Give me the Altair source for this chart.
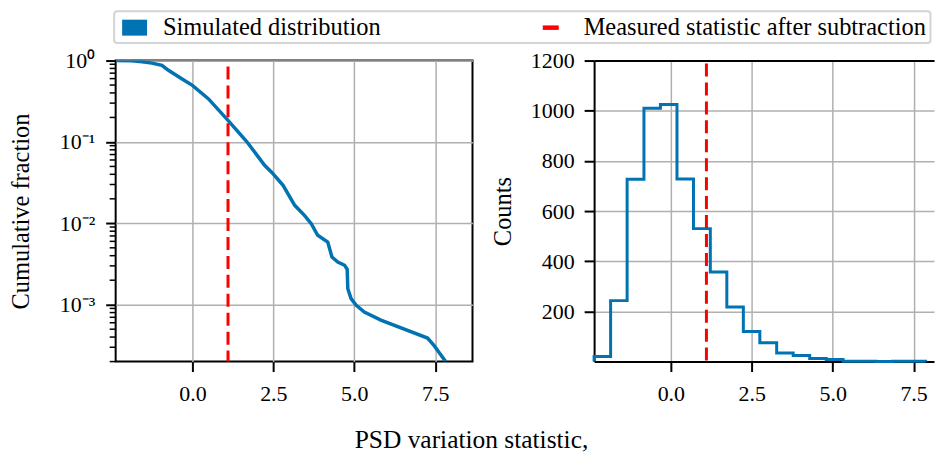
import altair as alt
import pandas as pd

BLUE = "#0173B2"
RED = "#FF0000"
FONT = "Liberation Serif"

SIM = "Simulated distribution"
MEAS = "Measured statistic after subtraction"

# Left panel: cumulative (survival) fraction of the simulated statistic
cdf_x = [-2.36, -1.87, -1.55, -1.25, -0.94, -0.74, -0.33, 0.00, 0.49, 1.10,
         1.67, 2.23, 2.46, 2.80, 3.16, 3.46, 3.67, 3.87, 4.18, 4.31,
         4.49, 4.70, 4.78, 4.80, 4.90, 5.06, 5.31, 5.82, 7.26, 7.46, 7.82]
cdf_y = [1.0, 0.996, 0.965, 0.93, 0.873, 0.758, 0.597, 0.496, 0.34, 0.184,
         0.102, 0.0516, 0.0419, 0.0293, 0.01663, 0.01253, 0.00989, 0.00713, 0.00589, 0.00385,
         0.00335, 0.00305, 0.00272, 0.00157, 0.00119, 0.000984, 0.000813, 0.000646, 0.000389, 0.000316, 0.000201]

# Right panel: histogram (step) of the simulated statistic
hist_edges = [-2.37, -1.86, -1.35, -0.83, -0.32, 0.19, 0.70, 1.22, 1.73, 2.24, 2.75,
              3.27, 3.78, 4.29, 4.80, 5.32, 5.83, 6.34, 6.85, 7.36, 7.87]
hist_counts = [20, 243, 727, 1010, 1025, 728, 530, 357, 218, 120,
               75, 34, 24, 12, 8, 1, 1, 0, 1, 1]

measured_value = 1.10

x_ticks = [0, 2.5, 5, 7.5]
y_log_ticks = [1, 0.1, 0.01, 0.001]
y_count_ticks = [200, 400, 600, 800, 1000, 1200]
minor_log = [m * 10.0 ** e for e in (-4, -3, -2, -1) for m in range(2, 10)]

x_domain_left = [-2.37, 8.65]
x_domain_right = [-2.37, 8.13]   # right panel is cut off at the page edge
W_L, W_R, H = 358, 341, 302

# ---- tables
cdf_df = pd.DataFrame({"x": cdf_x, "y": cdf_y})
step_x = [hist_edges[0]] + hist_edges[:-1] + [hist_edges[-1], hist_edges[-1]]
step_c = [0] + hist_counts + [hist_counts[-1], 0]
step_df = pd.DataFrame({"x": step_x, "c": step_c, "i": list(range(len(step_x)))})
meas_df = pd.DataFrame({"x": [measured_value]})
minor_df = pd.DataFrame({"m": minor_log})
leg_df = pd.DataFrame({"series": [SIM, MEAS], "x": [None, None], "y": [None, None]})

xs_left = alt.Scale(domain=x_domain_left, nice=False, zero=False)
xs_right = alt.Scale(domain=x_domain_right, nice=False, zero=False)

legend = alt.Legend(
    title=None, orient="none", legendX=-1.5, legendY=-49.5,
    direction="horizontal", columns=2, columnPadding=158,
    padding=4, symbolOffset=4, labelOffset=16,
    labelFont=FONT, labelFontSize=24.5, labelColor="black", labelLimit=800,
    symbolSize=625, symbolStrokeWidth=0, symbolOpacity=1,
    strokeColor="#d4d4d4", fillColor="white", cornerRadius=3,
)
color_scale = alt.Scale(domain=[SIM, MEAS], range=[BLUE, RED])
shape_scale = alt.Scale(domain=[SIM, MEAS],
                        range=["M-1,-0.64H1V0.64H-1Z", "M-1,-0.18H0.28V0.18H-1Z"])

# ---- left panel
ylog = alt.Scale(type="log", domain=[2.0e-4, 1], nice=False)
label_expr = ("datum.value > 0.5 ? '10⁰' : datum.value > 0.05 ? '10⁻¹' : "
              "datum.value > 0.005 ? '10⁻²' : '10⁻³'")

cdf_line = alt.Chart(cdf_df).mark_line(color=BLUE, strokeWidth=3.5, clip=True).encode(
    x=alt.X("x:Q", scale=xs_left,
            axis=alt.Axis(values=x_ticks, format=".1f", title=None, labelPadding=12)),
    y=alt.Y("y:Q", scale=ylog,
            axis=alt.Axis(values=y_log_ticks, labelExpr=label_expr, title="Cumulative fraction",
                          titleX=-94, titleBaseline="middle", labelPadding=11)),
)
minor_ticks = alt.Chart(minor_df).mark_rule(color="black", strokeWidth=1.5).encode(
    y=alt.Y("m:Q", scale=ylog), x=alt.value(-6), x2=alt.value(0)
)
meas_left = alt.Chart(meas_df).mark_rule(
    color=RED, strokeWidth=3, strokeDash=[13, 6], strokeDashOffset=13
).encode(x=alt.X("x:Q", scale=xs_left))
legend_layer = alt.Chart(leg_df).mark_point(filled=True, opacity=1).encode(
    x=alt.X("x:Q", scale=xs_left),
    y=alt.Y("y:Q", scale=ylog),
    color=alt.Color("series:N", scale=color_scale, legend=legend),
    shape=alt.Shape("series:N", scale=shape_scale, legend=legend),
)
left = alt.layer(cdf_line, minor_ticks, meas_left, legend_layer).properties(width=W_L, height=H)

# ---- right panel (frame drawn by axis domain lines, right side is off the page)
spine = dict(domain=True, domainColor="black", domainWidth=2)
hist_line = alt.Chart(step_df).mark_line(interpolate="step-after", color=BLUE, strokeWidth=3).encode(
    x=alt.X("x:Q", scale=xs_right,
            axis=alt.Axis(values=x_ticks, format=".1f", title=None, labelPadding=12, **spine)),
    y=alt.Y("c:Q", scale=alt.Scale(domain=[0, 1200], nice=False),
            axis=alt.Axis(values=y_count_ticks, format="d", title="Counts", titleX=-91,
                          titleBaseline="middle", labelPadding=10, **spine)),
    order=alt.Order("i:Q"),
)
meas_right = alt.Chart(meas_df).mark_rule(
    color=RED, strokeWidth=3, strokeDash=[13, 6], strokeDashOffset=16
).encode(
    x=alt.X("x:Q", scale=xs_right,
            axis=alt.Axis(orient="top", labels=False, ticks=False, grid=False, title=None, **spine))
)
right = alt.layer(hist_line, meas_right).resolve_axis(x="independent").properties(
    width=W_R, height=H, view=alt.ViewBackground(stroke="transparent")
)

chart = alt.hconcat(left, right, spacing=122, bounds="flush").resolve_scale(
    color="independent", shape="independent"
).properties(
    padding=0,
    title=alt.TitleParams("PSD variation statistic,", orient="bottom", anchor="middle",
                          offset=23, dx=0, font=FONT, fontSize=25.5, fontWeight="normal",
                          color="black"),
).configure(
    font=FONT
).configure_axis(
    labelFont=FONT, labelFontSize=22, labelColor="black",
    titleFont=FONT, titleFontSize=24.5, titleFontWeight="normal", titleColor="black",
    tickColor="black", tickWidth=2, tickSize=10, domain=False,
    gridColor="#b0b0b0", gridWidth=1.5, gridOpacity=1,
).configure_legend(
    labelFont=FONT, labelFontSize=24.5, labelColor="black", labelLimit=800,
    strokeWidth=2,
).configure_view(
    stroke="black", strokeWidth=2
).configure_title(
    font=FONT, fontSize=25.5, fontWeight="normal", color="black"
)

chart.save("out.html", embed_options={"renderer": "svg", "actions": False})
